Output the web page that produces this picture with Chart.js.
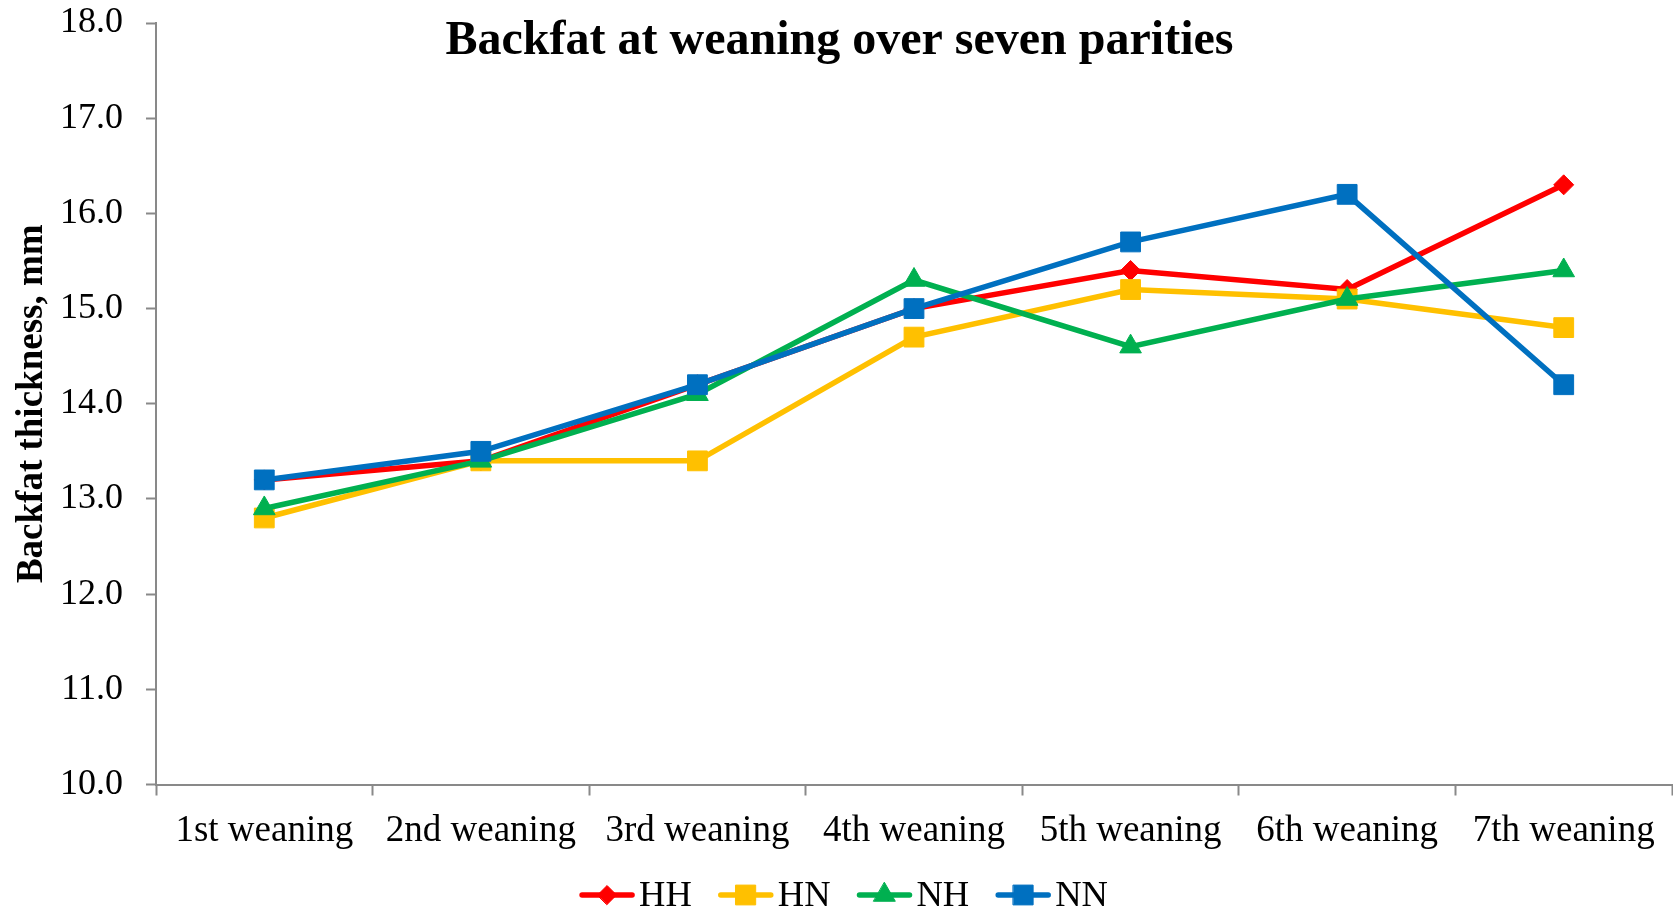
<!DOCTYPE html>
<html>
<head>
<meta charset="utf-8">
<title>Backfat at weaning over seven parities</title>
<script src="https://cdn.jsdelivr.net/npm/chart.js@4.4.1/dist/chart.umd.min.js"></script>
<style>
  html, body { margin: 0; padding: 0; background: #ffffff; overflow: hidden; }
  #wrap { width: 1673px; height: 913px; position: relative; }
</style>
</head>
<body>
<div id="wrap"><canvas id="chart"></canvas></div>
<script>
// Weaning events (x categories)
const categories = ['1st weaning', '2nd weaning', '3rd weaning', '4th weaning', '5th weaning', '6th weaning', '7th weaning'];

// Backfat thickness (mm) per group
const hh = [13.2, 13.4, 14.2, 15.0, 15.4, 15.2, 16.3];
const hn = [12.8, 13.4, 13.4, 14.7, 15.2, 15.1, 14.8];
const nh = [12.9, 13.4, 14.1, 15.3, 14.6, 15.1, 15.4];
const nn = [13.2, 13.5, 14.2, 15.0, 15.7, 16.2, 14.2];

const seriesNames = ['HH', 'HN', 'NH', 'NN'];
const yMin = 10, yMax = 18, yStep = 1;

const chartTitle = 'Backfat at weaning over seven parities';
const yTitle = 'Backfat thickness, mm';

const FONT = "'Liberation Serif', 'Times New Roman', serif";
const AXIS_GREY = '#898989';

const styles = [
  { color: '#FF0000', pointStyle: 'rectRot',  radius: 10 },
  { color: '#FFC000', pointStyle: 'rect',     radius: 14 },
  { color: '#00B050', pointStyle: 'triangle', radius: 12.5 },
  { color: '#0070C0', pointStyle: 'rect',     radius: 14 }
];

const values = [hh, hn, nh, nn];

const datasets = values.map((data, i) => ({
  label: seriesNames[i],
  data: data,
  borderColor: styles[i].color,
  backgroundColor: styles[i].color,
  pointBackgroundColor: styles[i].color,
  pointBorderColor: styles[i].color,
  pointBorderWidth: 1,
  pointStyle: styles[i].pointStyle,
  pointRadius: styles[i].radius,
  pointHoverRadius: styles[i].radius,
  borderWidth: 5.5,
  tension: 0,
  fill: false,
  // later series sit on top
  order: values.length - 1 - i
}));

// Title drawn over the top of the plot area
const titlePlugin = {
  id: 'overlayTitle',
  afterDraw(chart) {
    const ctx = chart.ctx;
    ctx.save();
    ctx.font = 'bold 48px ' + FONT;
    ctx.fillStyle = '#000000';
    ctx.textAlign = 'center';
    ctx.textBaseline = 'alphabetic';
    ctx.fillText(chartTitle, chart.width / 2 + 3, 54);
    ctx.restore();
  }
};

function drawMarkerPath(ctx, style, r, x, y) {
  if (style === 'rect') {
    const s = Math.SQRT1_2 * r;
    ctx.rect(x - s, y - s, 2 * s, 2 * s);
  } else if (style === 'rectRot') {
    ctx.moveTo(x - r, y);
    ctx.lineTo(x, y - r);
    ctx.lineTo(x + r, y);
    ctx.lineTo(x, y + r);
    ctx.closePath();
  } else if (style === 'triangle') {
    const a = 2 * Math.PI / 3;
    ctx.moveTo(x, y - r);
    ctx.lineTo(x + Math.sin(a) * r, y - Math.cos(a) * r);
    ctx.lineTo(x + Math.sin(2 * a) * r, y - Math.cos(2 * a) * r);
    ctx.closePath();
  }
}

// Legend with a line segment through each marker
const legendPlugin = {
  id: 'lineLegend',
  afterDraw(chart) {
    const ctx = chart.ctx;
    const y = 895;
    const lineLen = 56, textGap = 4, itemGap = 26;
    ctx.save();
    ctx.font = '36.5px ' + FONT;
    const widths = chart.data.datasets.map(ds => lineLen + textGap + ctx.measureText(ds.label).width);
    const total = widths.reduce((a, b) => a + b, 0) + itemGap * (widths.length - 1);
    let x = chart.width / 2 + 7 - total / 2;
    chart.data.datasets.forEach((ds, i) => {
      ctx.strokeStyle = ds.borderColor;
      ctx.lineWidth = 5.5;
      ctx.lineCap = 'round';
      ctx.beginPath();
      ctx.moveTo(x + 3, y);
      ctx.lineTo(x + lineLen - 3, y);
      ctx.stroke();
      const r = ds.pointStyle === 'triangle' ? 12.5 : (ds.pointStyle === 'rectRot' ? 9.5 : 14);
      ctx.fillStyle = ds.backgroundColor;
      ctx.lineWidth = 1;
      ctx.beginPath();
      drawMarkerPath(ctx, ds.pointStyle, r, x + lineLen / 2, y);
      ctx.fill();
      ctx.stroke();
      ctx.fillStyle = '#000000';
      ctx.textAlign = 'left';
      ctx.textBaseline = 'middle';
      ctx.fillText(ds.label, x + lineLen + textGap, y + 1);
      x += widths[i] + itemGap;
    });
    ctx.restore();
  }
};

Chart.defaults.font.family = FONT;
Chart.defaults.color = '#000000';

new Chart(document.getElementById('chart'), {
  type: 'line',
  data: { labels: categories, datasets: datasets },
  options: {
    responsive: true,
    maintainAspectRatio: false,
    animation: false,
    events: [],
    layout: { autoPadding: false, padding: { left: 0, right: 1, top: 23, bottom: 0 } },
    plugins: {
      legend: { display: false },
      title: { display: false },
      tooltip: { enabled: false }
    },
    scales: {
      x: {
        type: 'category',
        offset: true,
        grid: {
          offset: true,
          drawOnChartArea: false,
          drawTicks: true,
          tickLength: 11,
          tickColor: AXIS_GREY,
          tickWidth: 2
        },
        border: { display: true, color: AXIS_GREY, width: 2 },
        ticks: {
          font: { size: 37 },
          color: '#000000',
          padding: 14,
          maxRotation: 0,
          autoSkip: false
        },
        afterFit(scale) {
          scale.height = 128.5;
          scale.paddingLeft = 0;
          scale.paddingRight = 0;
        }
      },
      y: {
        min: yMin,
        max: yMax,
        grid: {
          drawOnChartArea: false,
          drawTicks: true,
          tickLength: 10,
          tickColor: AXIS_GREY,
          tickWidth: 2
        },
        border: { display: true, color: AXIS_GREY, width: 2 },
        ticks: {
          stepSize: yStep,
          font: { size: 36 },
          color: '#000000',
          padding: 23,
          callback: v => Number(v).toFixed(1)
        },
        title: {
          display: true,
          text: yTitle,
          font: { size: 37, weight: 'bold' },
          color: '#000000',
          padding: { top: 10, bottom: 0 }
        },
        afterFit(scale) {
          scale.width = 156;
          scale.paddingTop = 0;
          scale.paddingBottom = 0;
        }
      }
    }
  },
  plugins: [titlePlugin, legendPlugin]
});
</script>
</body>
</html>
